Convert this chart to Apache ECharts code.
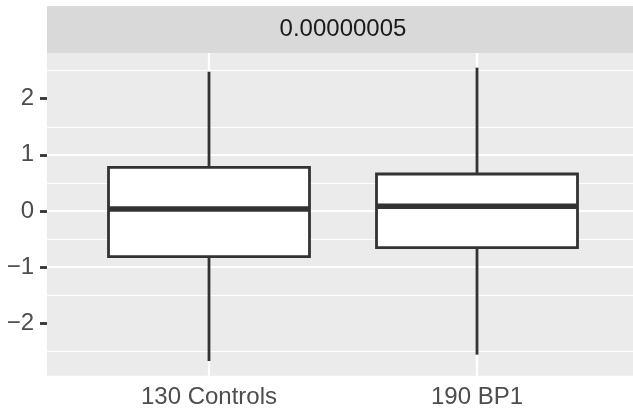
<!DOCTYPE html>
<html>
<head>
<meta charset="utf-8">
<script src="https://cdn.jsdelivr.net/npm/echarts@6/dist/echarts.min.js"></script>
<style>
html,body{margin:0;padding:0;background:#fff;}
#chart{width:633px;height:411px;}
</style>
</head>
<body>
<div id="chart"></div>
<script>
// ---- data ----
const stripLabel = '0.00000005';
const categories = ['130 Controls', '190 BP1'];
const lowerWhisker = [-2.672, -2.559];
const q1Values = [-0.814, -0.653];
const medianValues = [0.036, 0.083];
const q3Values = [0.778, 0.659];
const upperWhisker = [2.481, 2.553];
const yTicks = [-2, -1, 0, 1, 2];
const yMin = -2.933;
const yMax = 2.814;

const FONT = 'Liberation Sans, Arial, Helvetica, sans-serif';
const boxData = categories.map((c, i) => [i, lowerWhisker[i], q1Values[i], medianValues[i], q3Values[i], upperWhisker[i]]);

function renderBox(params, api) {
  const idx = api.value(0);
  const lw = api.coord([idx, api.value(1)]);
  const q1 = api.coord([idx, api.value(2)]);
  const md = api.coord([idx, api.value(3)]);
  const q3 = api.coord([idx, api.value(4)]);
  const uw = api.coord([idx, api.value(5)]);
  const band = api.size([1, 0])[0];
  const half = band * 0.75 / 2;
  const cs = params.coordSys;
  const x = md[0];
  const ink = '#333333';
  return {
    type: 'group',
    children: [
      { type: 'line', shape: { x1: x, y1: cs.y, x2: x, y2: cs.y + cs.height }, style: { stroke: '#ffffff', lineWidth: 2.2 } },
      { type: 'line', shape: { x1: x, y1: q3[1], x2: x, y2: uw[1] }, style: { stroke: ink, lineWidth: 2.8 } },
      { type: 'line', shape: { x1: x, y1: q1[1], x2: x, y2: lw[1] }, style: { stroke: ink, lineWidth: 2.8 } },
      { type: 'rect', shape: { x: x - half, y: q3[1], width: 2 * half, height: q1[1] - q3[1] }, style: { fill: '#ffffff', stroke: ink, lineWidth: 2.8 } },
      { type: 'line', shape: { x1: x - half, y1: md[1], x2: x + half, y2: md[1] }, style: { stroke: ink, lineWidth: 5.5 } }
    ]
  };
}

const chart = echarts.init(document.getElementById('chart'), null, { renderer: 'canvas' });
chart.setOption({
  animation: false,
  backgroundColor: '#ffffff',
  textStyle: { fontFamily: FONT },
  grid: [
    { left: 47, right: 0, top: 53, bottom: 35.33, show: true, backgroundColor: '#EBEBEB', borderWidth: 0, containLabel: false, z: -1 },
    { left: 75, width: 536, top: 53, bottom: 35.33, show: false, containLabel: false }
  ],
  xAxis: [
    { gridIndex: 0, type: 'value', show: false, min: 0, max: 1 },
    {
      gridIndex: 1, type: 'category', data: categories, boundaryGap: true,
      axisLine: { show: false },
      axisTick: { show: true, alignWithLabel: true, length: 7, lineStyle: { color: '#333333', width: 2.8 } },
      axisLabel: { fontSize: 24, color: '#4D4D4D', margin: 10, fontFamily: FONT },
      splitLine: { show: false }
    }
  ],
  yAxis: [
    {
      gridIndex: 0, type: 'value', min: yMin, max: yMax,
      axisLine: { show: false },
      axisTick: { show: true, length: 7, customValues: yTicks, lineStyle: { color: '#333333', width: 2.8 } },
      axisLabel: { fontSize: 24, color: '#4D4D4D', margin: 13, customValues: yTicks, fontFamily: FONT,
        formatter: v => (v < 0 ? '\u2212' + Math.abs(v) : String(v)) },
      splitLine: { show: true, showMinLine: false, showMaxLine: false, lineStyle: { color: '#ffffff', width: 2.2 } },
      minorTick: { show: false, splitNumber: 2 },
      minorSplitLine: { show: true, lineStyle: { color: '#ffffff', width: 1.1 } }
    },
    { gridIndex: 1, type: 'value', min: yMin, max: yMax, show: false }
  ],
  graphic: [
    { type: 'rect', left: 47, top: 6, shape: { width: 600, height: 47 }, style: { fill: '#D9D9D9' }, z: 100 },
    { type: 'text', x: 343, y: 29.3, style: { text: stripLabel, fontSize: 24, fontFamily: FONT, fill: '#1A1A1A', textAlign: 'center', textVerticalAlign: 'middle' }, z: 101 }
  ],
  series: [
    {
      type: 'custom', xAxisIndex: 1, yAxisIndex: 1,
      renderItem: renderBox,
      encode: { x: 0, y: [1, 2, 3, 4, 5] },
      data: boxData,
      clip: false
    }
  ]
});
</script>
</body>
</html>
